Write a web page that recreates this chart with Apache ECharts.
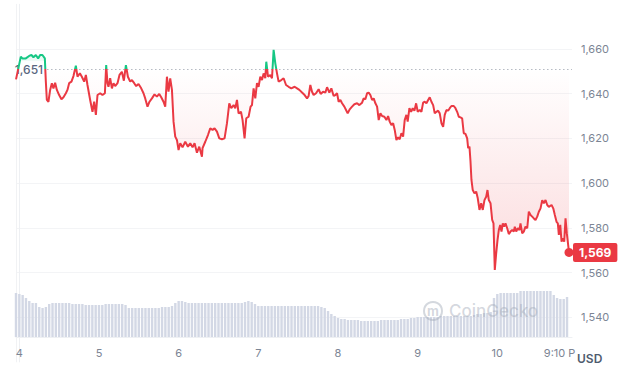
<!DOCTYPE html>
<html><head><meta charset="utf-8">
<script src="https://cdn.jsdelivr.net/npm/echarts@6/dist/echarts.min.js"></script>
<style>html,body{margin:0;padding:0;background:#fff}#c{width:624px;height:375px}</style>
</head><body><div id="c"></div>
<script>
// hours since day "4" 00:00
const times = [
 -1.0,0.45,0.93,1.96,2.95,3.65,4.25,4.97,5.67,6.27,
 6.96,7.69,7.99,8.29,8.77,9.29,9.80,10.28,10.79,11.31,
 12.00,12.69,13.30,14.02,14.50,15.01,15.71,16.31,17.03,17.52,
 18.24,18.84,19.54,20.05,20.53,21.34,22.04,22.55,23.06,23.55,
 24.36,25.05,25.78,26.17,26.56,26.86,27.37,27.89,28.37,28.88,
 29.58,30.18,30.90,31.50,32.11,32.71,33.40,33.92,34.61,35.21,
 35.91,36.72,37.41,37.93,38.62,39.22,39.95,40.73,41.45,42.15,
 42.75,43.44,43.96,44.47,44.95,45.46,45.98,46.46,46.97,47.48,
 47.97,48.48,49.17,49.99,50.80,51.49,52.19,52.79,53.51,54.21,
 55.02,55.20,56.02,56.83,57.52,58.22,58.82,59.54,60.24,61.05,
 61.83,62.56,63.25,63.85,64.55,65.06,65.57,66.05,66.78,67.26,
 67.86,68.37,69.07,69.67,70.09,70.58,71.09,71.60,72.08,72.60,
 73.11,73.59,74.10,74.40,74.92,75.61,76.12,76.61,77.12,77.63,
 78.11,78.93,79.62,80.35,81.13,81.94,82.94,83.67,84.36,85.17,
 85.95,86.68,87.16,87.67,88.18,88.67,89.39,90.17,90.78,91.50,
 92.19,92.71,93.40,94.00,94.70,95.21,95.72,96.20,96.72,97.23,
 97.92,98.43,98.92,99.52,100.24,100.94,101.75,102.44,103.26,103.74,
 104.25,104.77,105.25,105.76,106.28,106.76,107.27,107.78,108.27,108.78,
 109.29,109.98,110.59,111.10,111.58,112.09,112.61,113.09,113.60,114.11,
 114.59,115.11,115.62,116.10,116.61,117.00,117.52,118.03,118.51,119.03,
 119.54,120.02,120.63,121.14,121.65,122.13,122.65,123.16,123.64,124.15,
 124.67,125.15,125.66,126.17,126.65,127.17,127.68,128.16,128.68,129.19,
 129.67,130.18,130.88,131.39,131.90,132.39,132.90,133.41,133.89,134.41,
 134.92,135.22,135.61,135.91,136.21,136.60,137.12,137.63,138.11,138.63,
 139.14,139.62,140.13,140.65,141.04,141.43,141.95,142.46,142.85,143.24,
 143.66,144.06,144.45,144.87,145.26,145.65,146.07,146.46,146.98,147.46,
 147.97,148.48,148.97,149.27,149.69,150.17,150.68,150.98,151.50,151.98,
 152.49,153.01,153.49,154.00,154.51,155.00,155.51,156.02,156.51,157.02,
 157.53,158.01,158.53,159.04,159.52,160.34,160.85,161.33,161.84,162.23,
 162.54,162.96,163.35,163.74,164.16,164.55,164.94,165.60
];
const prices = [
 1646.4,1656.6,1655.8,1655.8,1656.9,1657.3,1656.3,1657.3,1655.8,1657.3,
 1657.3,1655.8,1645.4,1637.2,1636.4,1641.7,1644.7,1642.4,1644.9,1641.7,
 1639.4,1637.5,1638.4,1640.2,1641.7,1644.7,1645.4,1647.9,1652.5,1647.6,
 1649.1,1647.6,1645.4,1648.4,1643.9,1637.2,1631.9,1636.4,1630.5,1639.4,
 1640.2,1639.4,1640.2,1652.8,1644.7,1643.1,1646.9,1642.4,1644.7,1643.4,
 1644.7,1648.4,1649.8,1645.8,1652.8,1647.6,1645.4,1646.1,1644.7,1643.4,
 1644.3,1642.4,1640.2,1637.9,1634.2,1636.4,1637.9,1639.7,1638.7,1639.9,
 1638.4,1636.4,1634.2,1647.6,1640.9,1646.9,1641.7,1627.5,1620.8,1619.3,
 1614.8,1617.8,1616.0,1618.5,1616.3,1617.8,1616.0,1617.8,1613.6,1616.3,
 1611.8,1615.6,1618.5,1621.5,1624.5,1623.8,1624.5,1623.0,1620.0,1619.6,
 1620.0,1626.8,1635.7,1633.5,1634.9,1633.5,1637.2,1631.2,1631.9,1628.2,
 1620.0,1629.0,1629.7,1634.2,1634.9,1642.4,1637.9,1644.7,1643.1,1647.6,
 1646.1,1649.1,1646.9,1654.3,1647.6,1648.4,1646.9,1659.6,1653.6,1649.1,
 1645.4,1646.1,1646.9,1643.9,1643.1,1642.4,1643.1,1642.4,1641.7,1640.5,
 1639.4,1637.9,1639.0,1643.9,1640.9,1639.4,1640.2,1642.0,1639.9,1640.9,
 1640.5,1642.9,1640.5,1642.4,1639.0,1639.4,1640.2,1636.4,1637.2,1635.7,
 1634.2,1632.7,1631.2,1633.0,1634.2,1635.3,1635.7,1634.9,1636.0,1637.9,
 1637.5,1640.2,1640.5,1639.4,1637.2,1637.9,1635.7,1634.2,1628.2,1631.2,
 1630.0,1629.7,1628.2,1630.0,1627.5,1626.0,1626.8,1623.8,1619.3,1620.5,
 1619.6,1622.3,1620.8,1628.2,1630.5,1627.5,1633.5,1631.9,1633.5,1632.4,
 1635.7,1631.9,1632.7,1631.9,1636.0,1636.4,1635.7,1637.2,1638.4,1636.4,
 1634.9,1631.2,1631.9,1632.4,1631.2,1626.8,1625.2,1630.5,1632.7,1632.4,
 1633.5,1634.5,1634.5,1633.5,1631.9,1629.7,1629.4,1629.0,1622.3,1622.0,
 1620.0,1615.6,1616.3,1610.0,1601.4,1596.9,1595.4,1596.2,1593.2,1588.0,
 1591.0,1588.0,1592.4,1593.9,1596.9,1592.4,1591.0,1583.5,1582.0,1561.1,
 1568.6,1574.5,1579.0,1581.3,1578.3,1582.0,1580.5,1582.0,1579.8,1577.2,
 1578.3,1579.0,1578.3,1580.5,1578.3,1579.8,1579.0,1582.0,1577.5,1578.3,
 1580.5,1579.8,1587.2,1585.7,1585.0,1584.2,1583.5,1585.0,1587.2,1588.7,
 1592.4,1591.0,1592.4,1590.2,1589.4,1590.2,1588.7,1585.7,1582.7,1582.0,
 1576.8,1581.3,1573.8,1575.3,1573.8,1584.2,1577.5,1569.0
];
// hourly volume, first bar at hour -1 (arbitrary units)
const volumeStartHour = -1;
const volumes = [
 4.4,4.3,4.2, 3.9,3.6,3.4,3.4, 3.0,2.9,3.0,
 3.3,3.4,3.4,3.4,3.4,3.4,3.4,3.3,3.3,3.3,
 3.3,3.2,3.2,3.2,3.2,3.2,3.2,3.3,
 3.3,3.3,3.3,3.3,3.3,3.2,
 2.9,2.9,2.9,2.9,2.9,2.9,2.9,2.9,2.9,2.9,3.0,3.0,3.0,3.1,
 3.4,3.6,3.6,3.5,
 3.4,3.4,3.4,3.4,3.4,3.4,3.4,3.4,3.4,3.4,3.4,3.4,3.4,3.4,3.4,3.4,
 3.4,3.5,3.6,3.5,3.3,
 3.1,3.1,3.1,3.1,3.1,3.1,3.1,3.1,3.1,3.1,3.1,3.1,3.1,3.1,3.1,3.1,3.1,3.1,3.1,
 3.0,2.9,2.6,2.3,2.1,1.9,
 1.8,1.8,1.7,1.7,1.7,1.7,1.6,1.6,1.6,1.6,1.6,1.6,
 1.7,1.7,1.7,1.7,1.7,1.7,1.8,1.8,1.8,1.9,1.9,
 2.0,2.0,2.0,2.0,2.0,2.0,2.0,
 2.1,2.1,2.1,2.1,2.1,2.1,2.1,2.1,2.1,2.1,
 2.2,2.3,2.3,2.4,2.4,2.5,
 3.9,4.3,4.4,4.4,4.4,4.4,4.4,4.4,
 4.6,4.6,4.6,4.6,4.6,4.6,4.6,4.6,4.6,4.6,
 4.2,3.9,3.8,3.8,4.0
];
const baseline = 1651;
const lastPrice = 1569;
const dayTicks = [0,24,48,72,96,120,144];
const dayLabels = ['4','5','6','7','8','9','10'];
const endTick = 165.17;
const endTickLabel = '9:10 P';
const yMin = 1520, yMax = 1680, yStep = 20;
const xMin = -1, xMax = 166.5;

const RED = '#ea3943', GREEN = '#16c784';
const fmt = v => Math.round(v).toLocaleString('en-US');
const priceData = times.map((t, i) => [t, prices[i]]);
const volData = volumes.map((v, i) => [volumeStartHour + i, v]);
const lastT = times[times.length - 1];
const labelMap = {};
dayTicks.forEach((t, i) => labelMap[t] = dayLabels[i]);
labelMap[endTick] = endTickLabel;

// colour split at the baseline, as a fraction of the line's value range (top = 0)
const pMax = Math.max(...prices, baseline), pMin = Math.min(...prices, baseline);
const cut = (pMax - baseline) / (pMax - pMin);

const chart = echarts.init(document.getElementById('c'), null, {renderer: 'svg'});
chart.setOption({
  animation: false,
  backgroundColor: '#fff',
  textStyle: {fontFamily: 'Inter, Roboto, sans-serif'},
  grid: [
    {left: 16, right: 52, top: 4.3, bottom: 13.1},
    {left: 16, right: 52, top: 285, bottom: 38}
  ],
  xAxis: [
    {type: 'value', gridIndex: 0, min: xMin, max: xMax, show: false},
    {type: 'value', gridIndex: 1, min: xMin, max: xMax,
     axisLine: {show: true, lineStyle: {color: '#eef0f3'}},
     axisTick: {show: false}, splitLine: {show: false},
     axisLabel: {customValues: dayTicks.concat([endTick]), color: '#7c8594', fontSize: 11, margin: 10,
       formatter: v => {
         const k = Object.keys(labelMap).find(key => Math.abs(+key - v) < 0.01);
         const s = k !== undefined ? labelMap[k] : '';
         return Math.abs(v - endTick) < 0.01 ? '{r|' + s + '}' : s;
       },
       rich: {r: {color: '#7c8594', fontSize: 11, padding: [0, 16, 0, 0]}}
     }}
  ],
  yAxis: [
    {type: 'value', gridIndex: 0, position: 'right', min: yMin, max: yMax, interval: yStep,
     axisLine: {show: true, lineStyle: {color: '#eef0f3'}}, axisTick: {show: false},
     splitLine: {show: true, showMinLine: false, showMaxLine: false, lineStyle: {color: '#f3f4f6'}},
     axisLabel: {showMinLabel: false, showMaxLabel: false, color: '#7c8594', fontSize: 11, margin: 9, formatter: fmt}},
    {type: 'value', gridIndex: 0, position: 'left', min: yMin, max: yMax,
     axisLine: {show: true, lineStyle: {color: '#f1f2f4'}}, axisTick: {show: false},
     axisLabel: {show: false}, splitLine: {show: false}},
    {type: 'value', gridIndex: 1, min: 0, max: 5.2, show: false, splitLine: {show: false}}
  ],
  series: [
    {type: 'line', xAxisIndex: 0, yAxisIndex: 0, data: priceData, symbol: 'none', z: 5,
     lineStyle: {width: 2, color: new echarts.graphic.LinearGradient(0, 0, 0, 1, [
       {offset: 0, color: GREEN}, {offset: cut, color: GREEN},
       {offset: cut, color: RED}, {offset: 1, color: RED}
     ])},
     areaStyle: {origin: baseline, color: new echarts.graphic.LinearGradient(0, 0, 0, 1, [
       {offset: 0, color: 'rgba(22,199,132,0.22)'},
       {offset: cut, color: 'rgba(22,199,132,0.02)'},
       {offset: cut, color: 'rgba(234,57,67,0.0)'},
       {offset: 1, color: 'rgba(234,57,67,0.26)'}
     ])},
     endLabel: {show: true, formatter: () => fmt(lastPrice), color: '#fff', backgroundColor: RED,
       fontWeight: 'bold', fontSize: 12, padding: [4, 6, 3, 6], borderRadius: 2, distance: 4},
     markLine: {silent: true, symbol: ['none', 'none'],
       lineStyle: {color: '#b5bac3', type: [1.5, 2.5], width: 1},
       label: {show: true, position: 'start', distance: 2, formatter: fmt(baseline), color: '#58667e',
         fontSize: 12, fontWeight: 500, backgroundColor: 'rgba(255,255,255,0.8)', padding: [2, 2]},
       data: [[{coord: [8.35, baseline]}, {coord: [xMax, baseline]}]]},
     markPoint: {silent: true, symbol: 'circle', symbolSize: 9, itemStyle: {color: RED},
       label: {show: false}, data: [{coord: [lastT, lastPrice]}]}
    },
    {type: 'bar', xAxisIndex: 1, yAxisIndex: 2, data: volData, barWidth: 2.4,
     itemStyle: {color: '#d3d8e5'}, silent: true}
  ],
  graphic: [
    {type: 'circle', z: 100, shape: {cx: 433, cy: 311, r: 9}, style: {fill: 'none', stroke: 'rgba(160,168,182,0.45)', lineWidth: 2}},
    {type: 'text', z: 100, x: 433, y: 311, style: {text: 'm', font: 'bold 13px Inter', fill: 'rgba(160,168,182,0.45)', align: 'center', verticalAlign: 'middle'}},
    {type: 'text', z: 100, x: 449, y: 311, style: {text: 'CoinGecko', font: '500 17px Inter', fill: 'rgba(160,168,182,0.45)', verticalAlign: 'middle'}},
    {type: 'text', z: 100, x: 577, y: 358, style: {text: 'USD', font: '600 12px Inter', fill: '#4f5b6e', verticalAlign: 'middle'}}
  ]
});
</script></body></html>
